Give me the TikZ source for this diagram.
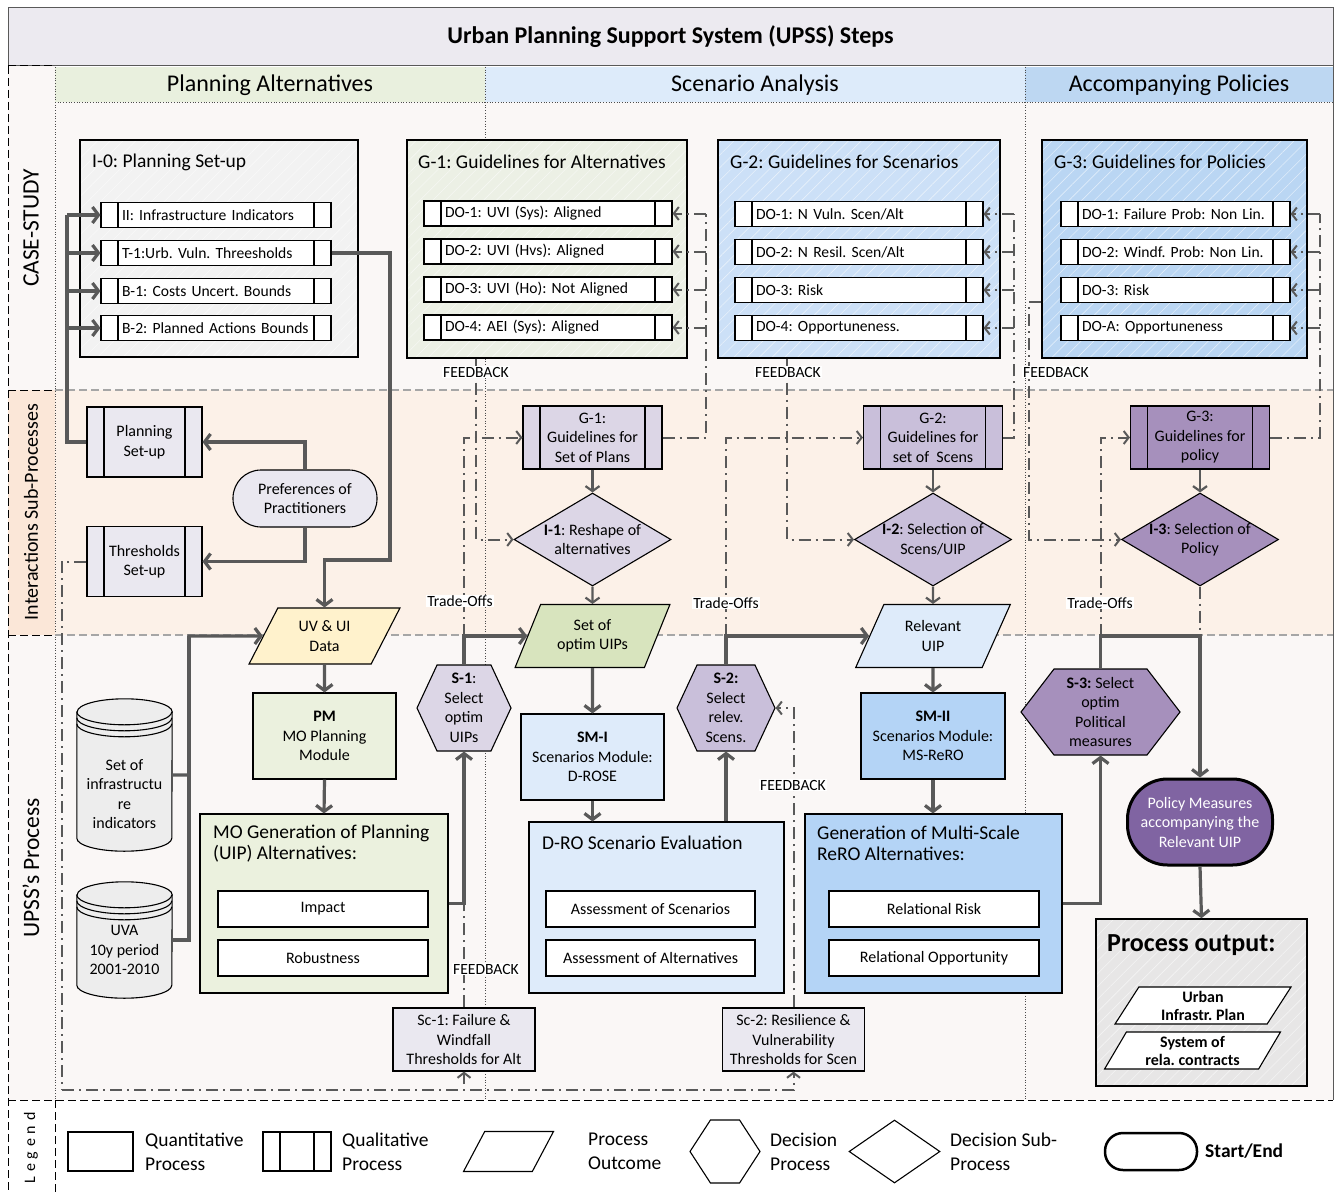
\documentclass[tikz,border=0pt]{standalone}
\usepackage{fontspec}
\setmainfont{Carlito}
\frenchspacing
\usetikzlibrary{arrows.meta,shapes.geometric,shapes.symbols,patterns.meta}
\definecolor{lineGrey}{RGB}{89,89,89}
\definecolor{titleGrey}{RGB}{236,234,240}
\definecolor{laneLight}{RGB}{250,247,246}
\definecolor{lanePeach}{RGB}{252,241,232}
\definecolor{tagPeach}{RGB}{251,231,216}
\definecolor{hdrGreen}{RGB}{233,240,222}
\definecolor{hdrBlue}{RGB}{221,235,250}
\definecolor{hdrBlueDark}{RGB}{189,215,242}
\definecolor{setupGrey}{RGB}{242,242,242}
\definecolor{guideGreen}{RGB}{236,240,229}
\definecolor{guideBlue}{RGB}{204,224,247}
\definecolor{guideBlueDark}{RGB}{186,214,243}
\definecolor{lavPale}{RGB}{234,232,240}
\definecolor{lavLight}{RGB}{220,214,230}
\definecolor{lavMid}{RGB}{201,191,218}
\definecolor{lavDark}{RGB}{166,144,188}
\definecolor{policyPurple}{RGB}{128,100,162}
\definecolor{dataYellow}{RGB}{255,242,204}
\definecolor{optimGreen}{RGB}{216,228,190}
\definecolor{moduleGreen}{RGB}{235,241,222}
\definecolor{moduleBlue}{RGB}{222,235,250}
\definecolor{moduleBlueDark}{RGB}{180,212,246}
\definecolor{outputGrey}{RGB}{231,230,230}
\definecolor{drumGrey}{RGB}{237,237,237}
\newcommand{\fsTitle}{\fontsize{24}{28}\selectfont}
\newcommand{\fsHead}{\fontsize{24}{28}\selectfont}
\newcommand{\fsLane}{\fontsize{23.5}{27}\selectfont}
\newcommand{\fsBoxTitle}{\fontsize{19.5}{21}\selectfont}
\newcommand{\fsRow}{\fontsize{15.6}{18}\selectfont}
\newcommand{\fsNode}{\fontsize{16}{19.5}\selectfont}
\newcommand{\fsKey}{\fontsize{19.5}{24}\selectfont}
\newcommand{\fsOut}{\fontsize{26}{30}\selectfont}
% drum (database) drawn round an empty named node
\newcommand{\DrumShape}[1]{%
  \draw[black, line width=1.1pt, fill=drumGrey] ([yshift=-13pt]#1.north west) -- ([yshift=13pt]#1.south west)
    arc[start angle=180, end angle=360, x radius=47.5pt, y radius=13pt]
    -- ([yshift=-13pt]#1.north east)
    arc[start angle=0, end angle=180, x radius=47.5pt, y radius=13pt] -- cycle;
  \foreach \d in {13,19,25}
    \draw[black, line width=1.1pt] ([yshift=-\d pt]#1.north west) arc[start angle=180, end angle=360, x radius=47.5pt, y radius=13pt];}
\tikzset{
  box/.style={draw=black, line width=1.1pt, inner sep=2pt, align=center, font=\fsNode},
  quantBox/.style={box, rectangle},
  qualBox/.style={box, rectangle, path picture={%
    \draw[line width=1.1pt] ([xshift=#1]path picture bounding box.north west) -- ([xshift=#1]path picture bounding box.south west);
    \draw[line width=1.1pt] ([xshift=-#1]path picture bounding box.north east) -- ([xshift=-#1]path picture bounding box.south east);}},
  qualBox/.default=17pt,
  doRow/.style={qualBox, fill=white, minimum height=25pt, inner xsep=21pt, inner ysep=0pt, text width=#1, align=left, font=\fsRow},
  hatched/.style={preaction={fill=#1}, pattern={Lines[angle=45,distance=9pt,line width=0.6pt]}, pattern color=white!55!#1},
  outcome/.style={box, trapezium, trapezium left angle=63, trapezium right angle=117, trapezium stretches=true, inner sep=1pt},
  decision/.style={box, signal, signal to=west and east, signal pointer angle=#1, inner sep=1pt},
  subDecision/.style={box, diamond, inner sep=-5pt, aspect=1.7},
  terminal/.style={box, rectangle},
  header/.style={minimum height=35pt, inner sep=0pt, font=\fsHead},
  boxTitle/.style={font=\fsBoxTitle, align=left, inner sep=0pt},
  tagText/.style={fill=white, inner sep=1pt, font=\fsRow},
  keyText/.style={font=\fsKey, align=left, anchor=west, inner sep=0pt},
  flow/.style={lineGrey, line width=3.2pt, -{Straight Barb[length=6pt,width=16pt]}},
  flowLine/.style={lineGrey, line width=3.2pt},
  thinFlow/.style={lineGrey, line width=2.2pt, -{Straight Barb[length=5pt,width=14pt]}},
  fb/.style={lineGrey, line width=2pt, dash pattern=on 12pt off 5pt on 2pt off 5pt},
  fbArrow/.style={fb, -{Straight Barb[length=5pt,width=13pt]}},
  laneDash/.style={black!35, line width=1.2pt, dash pattern=on 8pt off 4pt},
  tagDash/.style={black, line width=1pt, dash pattern=on 8pt off 4pt},
  colDot/.style={black!70, line width=0.7pt, dotted}
}
\begin{document}
\begin{tikzpicture}[x=1pt,y=-1pt]
\useasboundingbox (0,0) rectangle (1337,1193);
% lanes and frame
\fill[white] (0,0) rectangle (1337,1193);
\fill[laneLight] (55,102) rectangle (1333,390);
\fill[lanePeach] (55,390) rectangle (1333,635);
\fill[laneLight] (55,635) rectangle (1333,1100);
\fill[laneLight] (8,66) rectangle (55,390);
\fill[tagPeach] (8,390) rectangle (55,635);
\fill[laneLight] (8,635) rectangle (55,1100);
\node[draw=lineGrey, line width=1pt, fill=titleGrey, minimum width=1325pt, minimum height=58pt, font=\fsTitle\bfseries] (title) at (670.5,37) {Urban Planning Support System (UPSS) Steps};
\node[header, fill=hdrGreen, minimum width=430pt] (hdrPlan) at (270,85) {Planning Alternatives};
\node[header, fill=hdrBlue, minimum width=540pt] (hdrScn) at (755,85) {Scenario Analysis};
\node[header, fill=hdrBlueDark, minimum width=308pt] (hdrPol) at (1179,85) {Accompanying Policies};
\draw[colDot] (55,102) -- (1333,102);
\draw[colDot] (55,67) -- (55,1100);
\draw[colDot] (485,67) -- (485,1100);
\draw[colDot] (1025,67) -- (1025,1100);
\draw[lineGrey, line width=1pt] (1333,66) -- (1333,1100);
\draw[laneDash] (55,390) -- (1333,390);
\draw[laneDash] (55,635) -- (1333,635);
\draw[tagDash] (8,66) -- (8,1193);
\draw[tagDash] (55,1100) -- (55,1193);
\draw[tagDash] (8,66) -- (55,66);
\draw[tagDash] (8,390) -- (55,390);
\draw[tagDash] (8,635) -- (55,635);
\draw[tagDash] (8,1100) -- (1333,1100);
\node[rotate=90, font=\fsLane] (tagCase) at (31,228) {CASE-STUDY};
\node[rotate=90, font=\fontsize{20}{24}\selectfont] (tagInter) at (31,512) {Interactions Sub-Processes};
\node[rotate=90, font=\fsLane] (tagProc) at (31,868) {UPSS’s Process};
\node[rotate=90, font=\fontsize{16}{18}\selectfont\addfontfeatures{LetterSpace=30}] (tagKey) at (31,1148) {Legend};

% case-study
\node[box, hatched=setupGrey, minimum width=278pt, minimum height=217pt] (setup) at (219,248.5) {};
\node[boxTitle, anchor=west] (setupT) at (92,162) {I-0: Planning Set-up};
\node[doRow=188pt] (rowII) at (216,215) {\mbox{II: Infrastructure Indicators}};
\node[doRow=188pt] (rowT1) at (216,253) {\mbox{T-1:Urb. Vuln. Threesholds}};
\node[doRow=188pt] (rowB1) at (216,291) {\mbox{B-1: Costs Uncert. Bounds}};
\node[doRow=188pt] (rowB2) at (216,328) {\mbox{B-2: Planned Actions Bounds}};

\node[box, hatched=guideGreen, minimum width=280pt, minimum height=218pt] (guideAlt) at (547,249) {};
\node[boxTitle, anchor=west] (guideAltT) at (418,162) {G-1: Guidelines for Alternatives};
\node[doRow=206pt] (altDo1) at (548,213.5) {\mbox{DO-1: UVI (Sys): Aligned}};
\node[doRow=206pt] (altDo2) at (548,251.5) {\mbox{DO-2: UVI (Hvs): Aligned}};
\node[doRow=206pt] (altDo3) at (548,289.5) {\mbox{DO-3: UVI (Ho): Not Aligned}};
\node[doRow=206pt] (altDo4) at (548,327.5) {\mbox{DO-4: AEI (Sys): Aligned}};

\node[box, hatched=guideBlue, minimum width=282pt, minimum height=218pt] (guideScn) at (859,249) {};
\node[boxTitle, anchor=west] (guideScnT) at (730,162) {G-2: Guidelines for Scenarios};
\node[doRow=206pt] (scnDo1) at (859,214) {\mbox{DO-1: N Vuln. Scen/Alt}};
\node[doRow=206pt] (scnDo2) at (859,252) {\mbox{DO-2: N Resil. Scen/Alt}};
\node[doRow=206pt] (scnDo3) at (859,290) {\mbox{DO-3: Risk}};
\node[doRow=206pt] (scnDo4) at (859,328) {\mbox{DO-4: Opportuneness.}};

\node[box, hatched=guideBlueDark, minimum width=265pt, minimum height=218pt] (guidePolicy) at (1174.5,249) {};
\node[boxTitle, anchor=west] (guidePolicyT) at (1054,162) {G-3: Guidelines for Policies};
\node[doRow=187pt] (polDo1) at (1175.5,214) {\mbox{DO-1: Failure Prob: Non Lin.}};
\node[doRow=187pt] (polDo2) at (1175.5,252) {\mbox{DO-2: Windf. Prob: Non Lin.}};
\node[doRow=187pt] (polDo3) at (1175.5,290) {\mbox{DO-3: Risk}};
\node[doRow=187pt] (polDo4) at (1175.5,328) {\mbox{DO-A: Opportuneness}};

% interactions
\node[qualBox, fill=lavPale, minimum width=115pt, minimum height=70pt] (planSet) at (144.5,442) {Planning\\Set-up};
\node[qualBox, fill=lavPale, minimum width=115pt, minimum height=70pt] (threshSet) at (144.5,561.5) {Thresholds\\Set-up};
\node[terminal, fill=lavPale, minimum width=144pt, minimum height=57pt, rounded corners=28pt] (prefs) at (305,498.5) {Preferences of\\Practitioners};
\node[qualBox, fill=lavLight, minimum width=139pt, minimum height=63pt] (guidePlans) at (592.5,437.5) {G-1:\\Guidelines for\\Set of Plans};
\node[qualBox, fill=lavMid, minimum width=139pt, minimum height=63pt] (guideScens) at (933,437.5) {G-2:\\Guidelines for\\set of~~Scens};
\node[qualBox, fill=lavDark, minimum width=139pt, minimum height=63pt] (guidePol) at (1200,437.5) {G-3:\\Guidelines for\\policy};
\node[subDecision, fill=lavLight, minimum width=157pt, minimum height=93pt] (subReshape) at (592.5,539.5) {\textbf{I-1}: Reshape of\\alternatives};
\node[subDecision, fill=lavMid, minimum width=157pt, minimum height=93pt] (subScn) at (933,539.5) {\textbf{I-2}: Selection of\\Scens/UIP};
\node[subDecision, fill=lavDark, minimum width=157pt, minimum height=93pt] (subPol) at (1200,539.5) {\textbf{I-3}: Selection of\\Policy};

% process
\node[outcome, fill=dataYellow, minimum width=151pt, minimum height=56pt] (uvData) at (324.5,636) {UV \& UI\\Data};
\node[outcome, fill=optimGreen, minimum width=155pt, minimum height=63pt] (optimSet) at (592.5,636) {Set of\\optim UIPs};
\node[outcome, fill=moduleBlue, minimum width=155pt, minimum height=63pt] (relUip) at (933,636) {Relevant\\UIP};
\node[quantBox, fill=moduleGreen, minimum width=143pt, minimum height=86pt] (planMod) at (324.5,736) {\textbf{PM}\\MO Planning\\Module};
\node[quantBox, fill=moduleBlue, minimum width=143pt, minimum height=86pt] (scnModI) at (592.5,757) {\textbf{SM-I}\\Scenarios Module:\\D-ROSE};
\node[quantBox, fill=moduleBlueDark, minimum width=144pt, minimum height=86pt] (scnModII) at (933,736) {\textbf{SM-II}\\Scenarios Module:\\MS-ReRO};
\node[decision=130, fill=lavLight, minimum width=94pt, minimum height=86pt] (selUip) at (464,708) {\textbf{S-1}:\\Select\\optim\\UIPs};
\node[decision=130, fill=lavMid, minimum width=98pt, minimum height=86pt] (selScn) at (726,708) {\textbf{S-2:}\\Select\\relev.\\Scens.};
\node[decision=105, fill=lavDark, minimum width=159pt, minimum height=86pt] (selPol) at (1100.5,712) {\textbf{S-3:} Select\\optim\\Political\\measures};

\node[quantBox, fill=moduleGreen, minimum width=248pt, minimum height=179pt] (moGen) at (324,903.5) {};
\node[boxTitle, anchor=west] (moGenT) at (213,843.5) {MO Generation of Planning\\(UIP) Alternatives:};
\node[quantBox, fill=white, minimum width=210pt, minimum height=36pt] (impact) at (323,909) {Impact};
\node[quantBox, fill=white, minimum width=210pt, minimum height=36pt] (robust) at (323,958) {Robustness};
\node[quantBox, fill=moduleBlue, minimum width=255pt, minimum height=171pt] (droEval) at (656.5,907.5) {};
\node[boxTitle, anchor=west] (droEvalT) at (542,843) {D-RO Scenario Evaluation};
\node[quantBox, fill=white, minimum width=209pt, minimum height=36pt] (assScn) at (650.5,909) {Assessment of Scenarios};
\node[quantBox, fill=white, minimum width=209pt, minimum height=36pt] (assAlt) at (650.5,958) {Assessment of Alternatives};
\node[quantBox, fill=moduleBlueDark, minimum width=257pt, minimum height=179pt] (reroGen) at (933.5,903.5) {};
\node[boxTitle, anchor=west] (reroGenT) at (817,843.5) {Generation of Multi-Scale\\ReRO Alternatives:};
\node[quantBox, fill=white, minimum width=210pt, minimum height=36pt] (relRisk) at (934,909) {Relational Risk};
\node[quantBox, fill=white, minimum width=210pt, minimum height=36pt] (relOpp) at (934,958) {Relational Opportunity};

\node[minimum width=95pt, minimum height=152pt, inner sep=0pt] (dbInfra) at (124.5,775) {};
\DrumShape{dbInfra}
\node[font=\fsNode, align=center] (dbInfraT) at (124.5,794) {Set of\\infrastructu\\re\\indicators};
\node[minimum width=95pt, minimum height=116pt, inner sep=0pt] (dbUva) at (124.5,940) {};
\DrumShape{dbUva}
\node[font=\fsNode, align=center] (dbUvaT) at (124.5,950) {UVA\\10y period\\2001-2010};

\node[quantBox, fill=lavPale, minimum width=142pt, minimum height=63pt] (thrAlt) at (464,1039.5) {Sc-1: Failure \&\\Windfall\\Thresholds for Alt};
\node[quantBox, fill=lavPale, minimum width=142pt, minimum height=63pt] (thrScn) at (793.5,1039.5) {Sc-2: Resilience \&\\Vulnerability\\Thresholds for Scen};

\node[terminal, fill=policyPurple, text=white, line width=3pt, minimum width=145pt, minimum height=86pt, rounded corners=40pt] (policy) at (1200,822) {Policy Measures\\accompanying the\\Relevant UIP};
\node[box, hatched=outputGrey, line width=1.6pt, minimum width=211pt, minimum height=167pt] (output) at (1201.5,1002.5) {};
\node[font=\fsOut\bfseries, anchor=west, inner sep=0pt] (outputT) at (1107,945) {Process output:};
\node[outcome, fill=white, minimum width=176pt, minimum height=37pt, font=\fontsize{16}{18}\selectfont\bfseries] (outPlan) at (1203,1005.5) {Urban\\Infrastr. Plan};
\node[outcome, fill=white, minimum width=176pt, minimum height=37pt, font=\fontsize{16}{18}\selectfont\bfseries] (outContract) at (1192.5,1050.5) {System of\\rela. contracts};

% case-study connectors
\coordinate (spineTop) at (67,215);
\draw[flowLine] (planSet.west) -| (spineTop);
\foreach \r in {rowII,rowT1,rowB1,rowB2}
  \draw[flow] (spineTop |- \r.west) -- (\r.west);
\coordinate (setupBend) at (390,560);
\draw[flow] (rowT1.east) -| (setupBend) -| (uvData.north);
\draw[flow] (prefs.north) |- (planSet.east);
\draw[flow] (prefs.south) |- (threshSet.east);

% process connectors
\coordinate (dbJoin) at (189,636);
\draw[flow] (dbInfra.east) -| (dbJoin) -- (uvData.west);
\draw[flowLine] (dbUva.east) -| (dbJoin);
\draw[flow] (uvData.south) -- (planMod.north);
\draw[flow] (planMod.south) -- (moGen.north);
\draw[flow] (moGen.east) -| (selUip.south);
\draw[flow] (selUip.north) |- (optimSet.west);
\draw[flow] (optimSet.south) -- (scnModI.north);
\draw[flow] (scnModI.south) -- (scnModI.south |- droEval.north);
\draw[flow] (selScn.south |- droEval.north) -- (selScn.south);
\draw[flow] (selScn.north) |- (relUip.west);
\draw[flow] (relUip.south) -- (scnModII.north);
\draw[flow] (scnModII.south) -- (scnModII.south |- reroGen.north);
\draw[flow] (reroGen.east) -| (selPol.south);
\coordinate (policyBend) at (1200,636);
\draw[flow] (selPol.north) |- (policyBend) -- (policy.north);
\draw[flow] (policy.south) -- (output.north);

% interaction connectors
\draw[thinFlow] (guidePlans.south) -- (subReshape.north);
\draw[thinFlow] (subReshape.south) -- (optimSet.north);
\draw[thinFlow] (guideScens.south) -- (subScn.north);
\draw[thinFlow] (subScn.south) -- (relUip.north);
\draw[thinFlow] (guidePol.south) -- (subPol.north);
\draw[fb] (subPol.south) -- (policyBend);

% guideline feedback rails
\coordinate (altRail) at (706,214);
\draw[fb] (guidePlans.east) -| (altRail);
\foreach \r in {altDo1,altDo2,altDo3,altDo4}
  \draw[fbArrow] (altRail |- \r.east) -- (\r.east);
\coordinate (scnRail) at (1014,214);
\draw[fb] (guideScens.east) -| (scnRail);
\foreach \r in {scnDo1,scnDo2,scnDo3,scnDo4}
  \draw[fbArrow] (scnRail |- \r.east) -- (\r.east);
\coordinate (polRail) at (1320,214);
\draw[fb] (guidePol.east) -| (polRail);
\foreach \r in {polDo1,polDo2,polDo3,polDo4}
  \draw[fbArrow] (polRail |- \r.east) -- (\r.east);

% feedback to the sub-decisions
\draw[fbArrow] ([xshift=70pt]guideAlt.south west) |- (subReshape.west);
\draw[fbArrow] ([xshift=70pt]guideScn.south west) |- (subScn.west);
\draw[fbArrow] ([yshift=-163pt]guidePolicy.north west) -- ++(-12,0) |- (subPol.west);
\node[tagText] (fbAlt) at (476,372) {FEEDBACK};
\node[tagText] (fbScn) at (788,372) {FEEDBACK};
\node[tagText] (fbPol) at (1056,372) {FEEDBACK};

% trade-offs
\draw[fbArrow] (selUip.north |- optimSet.west) |- (guidePlans.west);
\draw[fbArrow] (selScn.north |- relUip.west) |- (guideScens.west);
\draw[fbArrow] (selPol.north |- policyBend) |- (guidePol.west);
\node[tagText] (toUip) at (460,601) {Trade-Offs};
\node[tagText] (toScn) at (726,603) {Trade-Offs};
\node[tagText] (toPol) at (1100,603) {Trade-Offs};

% threshold feedback loop
\draw[fb] (thrAlt.north) -- (thrAlt.north |- moGen.east);
\draw[fbArrow] (thrScn.north) |- (selScn.east);
\node[tagText] (fbThrAlt) at (486,969) {FEEDBACK};
\node[tagText] (fbThrScn) at (793,785) {FEEDBACK};
\coordinate (loopCorner) at (62,1090);
\draw[fb] (threshSet.west) -| (loopCorner);
\draw[fbArrow] (loopCorner) -| (thrAlt.south);
\draw[fbArrow] (loopCorner) -| (thrScn.south);

% legend
\node[quantBox, fill=white, minimum width=65pt, minimum height=39pt] (keyQuant) at (100.5,1151.5) {};
\node[keyText] (keyQuantT) at (145,1151.5) {Quantitative\\Process};
\node[qualBox, fill=white, minimum width=68pt, minimum height=39pt] (keyQual) at (297,1151.5) {};
\node[keyText] (keyQualT) at (342,1151.5) {Qualitative\\Process};
\node[outcome, fill=white, minimum width=90pt, minimum height=40pt, trapezium left angle=66, trapezium right angle=114] (keyOut) at (508.5,1151.5) {};
\node[keyText] (keyOutT) at (588,1151.5) {Process\\Outcome};
\node[decision=114, fill=white, minimum width=70pt, minimum height=63pt] (keyDec) at (725,1151.5) {};
\node[keyText] (keyDecT) at (770,1151.5) {Decision\\Process};
\node[subDecision, fill=white, minimum width=91pt, minimum height=63pt] (keySub) at (894.5,1151.5) {};
\node[keyText] (keySubT) at (950,1151.5) {Decision Sub-\\Process};
\node[terminal, fill=white, line width=2.5pt, minimum width=92pt, minimum height=37pt, rounded corners=18pt] (keyEnd) at (1151,1151.5) {};
\node[keyText, font=\fsKey\bfseries] (keyEndT) at (1205,1151.5) {Start/End};
\end{tikzpicture}
\end{document}
